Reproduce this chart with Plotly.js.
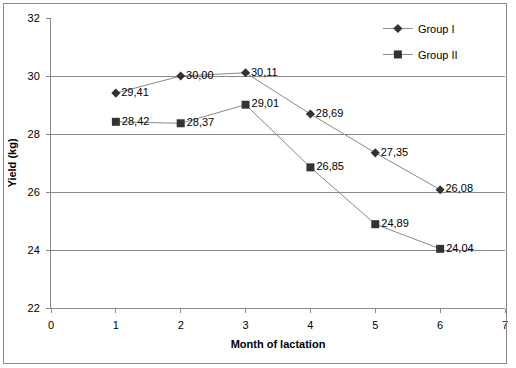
<!DOCTYPE html>
<html><head><meta charset="utf-8">
<script src="https://cdn.plot.ly/plotly-3.0.1.min.js"></script>
<style>body{margin:0;background:#fff}#wrap{position:relative;width:516px;height:368px}#c{width:516px;height:368px}#frame{position:absolute;left:3px;top:3px;width:502px;height:359px;border:1px solid #888;pointer-events:none}</style>
</head><body><div id="wrap"><div id="c"></div><div id="frame"></div></div>
<script>
const months = [1, 2, 3, 4, 5, 6];
const groupI = [29.41, 30.00, 30.11, 28.69, 27.35, 26.08];
const groupII = [28.42, 28.37, 29.01, 26.85, 24.89, 24.04];
const seriesNames = ['Group I', 'Group II'];
const fmt = v => v.toFixed(2).replace('.', ',');
const font = {family: 'Liberation Sans, Arial, sans-serif', size: 11, color: '#000'};
const traces = [
  {x: months, y: groupI, name: seriesNames[0], legendgroup: 'a', mode: 'lines+markers+text',
   line: {color: '#888', width: 1}, marker: {symbol: 'diamond', size: 7, color: '#333'},
   text: groupI.map(fmt), textposition: 'middle right', textfont: font, cliponaxis: false},
  {x: months, y: groupII, name: seriesNames[1], legendgroup: 'b', mode: 'lines+markers+text',
   line: {color: '#888', width: 1}, marker: {symbol: 'square', size: 8, color: '#333'},
   text: groupII.map(fmt), textposition: 'middle right', textfont: font, cliponaxis: false}
];
const layout = {
  width: 516, height: 368,
  margin: {l: 51, r: 11, t: 18, b: 60},
  paper_bgcolor: '#fff', plot_bgcolor: '#fff',
  font: font,
  showlegend: true,
  legend: {x: 0.72, y: 1.014, xanchor: 'left', yanchor: 'top', bgcolor: '#fff',
           font: font, tracegroupgap: 7, itemwidth: 30},
  xaxis: {range: [0, 7], dtick: 1, tick0: 0, showgrid: false, zeroline: false,
          showline: true, linecolor: '#888', linewidth: 1, ticks: 'outside', ticklen: 4,
          tickcolor: '#888', tickfont: font, ticklabelstandoff: 3,
          title: {text: '<b>Month of lactation</b>', font: {family: font.family, size: 11, color: '#000'}, standoff: 10}},
  yaxis: {range: [22, 32], dtick: 2, showgrid: true, gridcolor: '#888', gridwidth: 1, zeroline: false,
          showline: true, linecolor: '#888', linewidth: 1, ticks: 'outside', ticklen: 4,
          tickcolor: '#888', tickfont: font, ticklabelstandoff: 4,
          title: {text: '<b>Yield (kg)</b>', font: {family: font.family, size: 11, color: '#000'}, standoff: 8}}
};
Plotly.newPlot('c', traces, layout, {displayModeBar: false, staticPlot: true});
</script></body></html>
